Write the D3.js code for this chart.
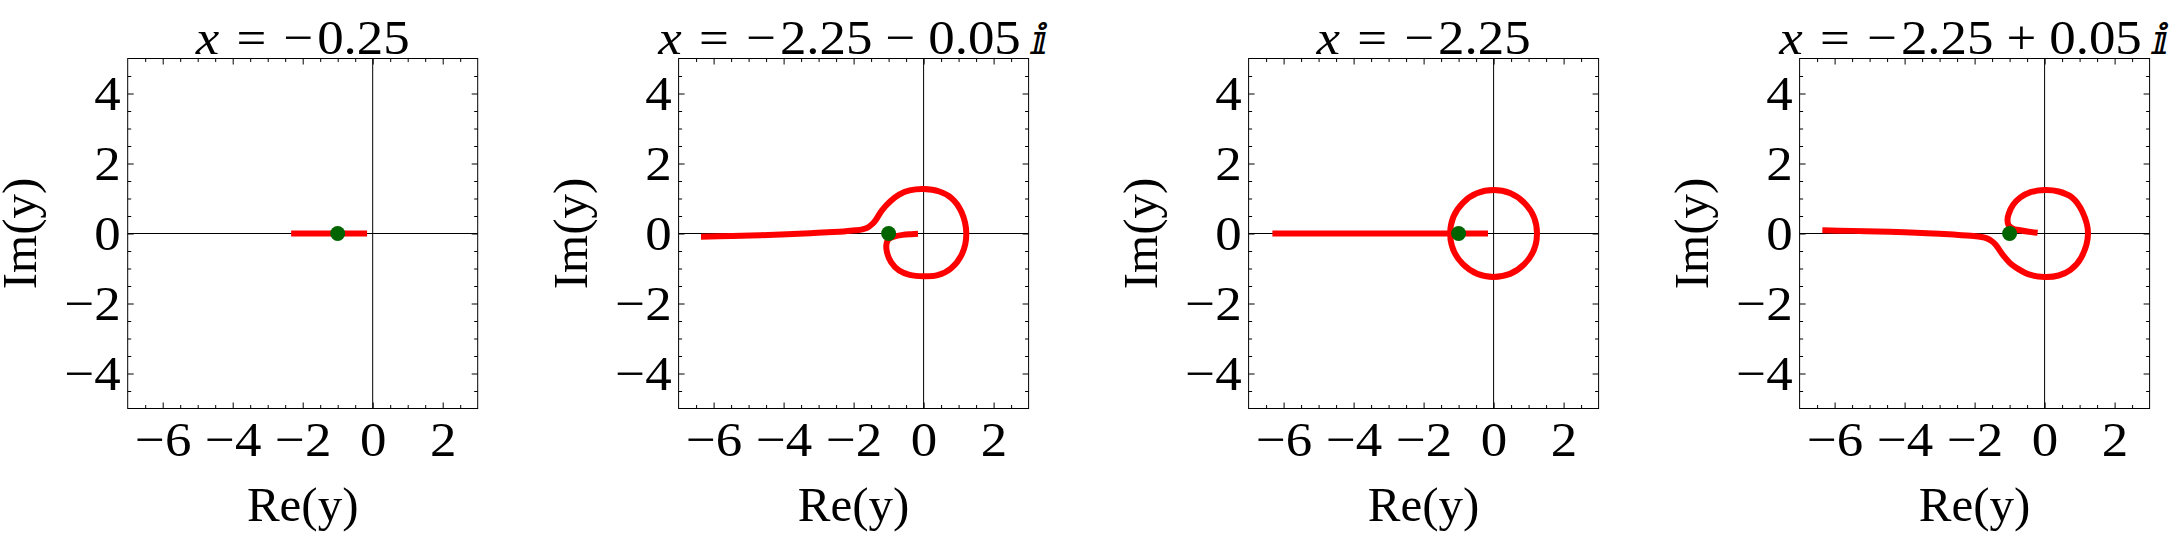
<!DOCTYPE html>
<html>
<head>
<meta charset="utf-8">
<script src="https://cdn.jsdelivr.net/npm/d3@7"></script>
<style>
  body { margin: 0; background: #fff; }
  text { font-family: "Liberation Serif", "Times New Roman", serif; fill: #000; }
</style>
</head>
<body>
<svg id="chart" width="2176" height="544"></svg>
<script>
// ---------------- data ----------------
const titleStrings = ["x = −0.25", "x = −2.25 − 0.05 \u2148", "x = −2.25", "x = −2.25 + 0.05 \u2148"];

const xDomain = [-7, 3];
const yDomain = [-5, 5];
const xMajorTicks = [-6, -4, -2, 0, 2];
const yMajorTicks = [-4, -2, 0, 2, 4];
const xMinorTicks = [-6.5, -5.5, -5, -4.5, -3.5, -3, -2.5, -1.5, -1, -0.5, 0.5, 1, 1.5, 2.5];
const yMinorTicks = [-4.5, -3.5, -3, -2.5, -1.5, -1, -0.5, 0.5, 1, 1.5, 2.5, 3, 3.5, 4.5];
const xLabel = "Re(y)";
const yLabel = "Im(y)";

// panel 1: x = -0.25
const curve1 = [[-2.33, 0], [-0.16, 0]];

// panel 2: x = -2.25 - 0.05 i
const curve2 = [
  [-6.36, -0.09], [-5.5, -0.07], [-4.67, -0.05], [-3.9, -0.02], [-3.24, 0.01],
  [-2.6, 0.04], [-2.28, 0.06], [-1.95, 0.09], [-1.75, 0.12], [-1.6, 0.17],
  [-1.48, 0.26], [-1.38, 0.37], [-1.19, 0.66], [-0.95, 0.92], [-0.70, 1.11],
  [-0.40, 1.23], [0, 1.27], [0.45, 1.20], [0.80, 1.01], [1.08, 0.62],
  [1.22, 0.0], [1.10, -0.58], [0.78, -1.0], [0.40, -1.19], [0, -1.22],
  [-0.40, -1.18], [-0.70, -1.06], [-0.93, -0.82], [-1.05, -0.52], [-1.06, -0.30],
  [-1.0, -0.16], [-0.85, -0.09], [-0.60, -0.04], [-0.35, -0.02], [-0.16, -0.01]
];

// panel 3: x = -2.25
const curve3 = [[-6.32, 0], [-0.16, 0]];
const circle3Radius = 1.24;

// panel 4: x = -2.25 + 0.05 i
const curve4 = [
  [-6.35, 0.09], [-5.5, 0.075], [-4.79, 0.06], [-4.0, 0.035], [-3.36, 0.01],
  [-2.6, -0.03], [-2.03, -0.07], [-1.8, -0.10], [-1.65, -0.14], [-1.52, -0.21],
  [-1.41, -0.31], [-1.17, -0.64], [-0.95, -0.88], [-0.79, -0.99], [-0.45, -1.17],
  [0, -1.24], [0.40, -1.20], [0.74, -1.04], [1.05, -0.68], [1.24, 0],
  [1.08, 0.62], [0.78, 1.03], [0.40, 1.20], [0, 1.24], [-0.40, 1.18],
  [-0.69, 1.03], [-0.90, 0.82], [-1.03, 0.55], [-1.06, 0.38], [-1.03, 0.24],
  [-0.90, 0.14], [-0.74, 0.10], [-0.45, 0.05], [-0.20, 0.02]
];

const dotPoint = [-1, 0];

// ---------------- layout ----------------
const frameLefts = [127.7, 678.6, 1248.6, 1799.6];
const frameTop = 58.5;
const frameSize = 350;
const fontSize = 49;
const stretch = 1.08;

const panels = [
  { curves: [curve1], circle: null },
  { curves: [curve2], circle: null },
  { curves: [curve3], circle: circle3Radius },
  { curves: [curve4], circle: null }
];

const svg = d3.select("#chart");
svg.append("rect").attr("width", 2176).attr("height", 544).attr("fill", "#fff");

const fmt = d => d < 0 ? "\u2212" + (-d) : String(d);

function drawTitle(g, cx, str) {
  const t = g.append("text")
    .attr("transform", `translate(${cx},53.5) scale(${stretch},1)`)
    .attr("text-anchor", "middle").attr("font-size", fontSize);
  const tokens = str.split(" ");
  let prev = null;
  tokens.forEach((tok, k) => {
    let gap = 0;
    if (k > 0) {
      if (tok === "=" || prev === "=") gap = 16;
      else if (tok === "\u2148") gap = 10;
      else gap = 12;
    }
    if (tok === "x") {
      t.append("tspan").attr("font-style", "italic").attr("dx", gap).text("x");
    } else if (tok === "\u2148") {
      t.append("tspan").attr("font-family", "DejaVu Serif, DejaVu Sans")
        .attr("font-size", fontSize - 7).attr("dx", gap).text(tok);
    } else if (tok.length > 1 && tok[0] === "\u2212") {
      t.append("tspan").attr("dx", gap).text("\u2212");
      t.append("tspan").attr("dx", 3.5).text(tok.slice(1));
    } else {
      t.append("tspan").attr("dx", gap).text(tok);
    }
    prev = tok;
  });
}

panels.forEach((p, i) => {
  const L = frameLefts[i];
  const x = d3.scaleLinear().domain(xDomain).range([L, L + frameSize]);
  const y = d3.scaleLinear().domain(yDomain).range([frameTop + frameSize, frameTop]);
  const g = svg.append("g");

  // zero axes
  g.append("line").attr("x1", x(xDomain[0])).attr("x2", x(xDomain[1]))
    .attr("y1", y(0)).attr("y2", y(0)).attr("stroke", "#000").attr("stroke-width", 1);
  g.append("line").attr("x1", x(0)).attr("x2", x(0))
    .attr("y1", y(yDomain[0])).attr("y2", y(yDomain[1])).attr("stroke", "#000").attr("stroke-width", 1);

  // ticks
  const bottom = y(yDomain[0]), top = y(yDomain[1]);
  const left = x(xDomain[0]), right = x(xDomain[1]);
  function addAxis(axis, tr) {
    const a = g.append("g").attr("transform", tr).call(axis);
    a.select(".domain").remove();
    a.selectAll("line").attr("stroke", "#000").attr("stroke-width", 1);
    a.selectAll("text").attr("font-size", fontSize).attr("font-family", "Liberation Serif")
      .attr("fill", "#000").attr("transform", `scale(${stretch},1)`);
    return a;
  }
  addAxis(d3.axisBottom(x).tickValues(xMajorTicks).tickSize(-6).tickPadding(12.7).tickFormat(fmt),
    `translate(0,${bottom})`);
  addAxis(d3.axisBottom(x).tickValues(xMinorTicks).tickSize(-3.5).tickFormat(""),
    `translate(0,${bottom})`);
  addAxis(d3.axisTop(x).tickValues(xMajorTicks).tickSize(-6).tickFormat(""),
    `translate(0,${top})`);
  addAxis(d3.axisTop(x).tickValues(xMinorTicks).tickSize(-3.5).tickFormat(""),
    `translate(0,${top})`);
  addAxis(d3.axisLeft(y).tickValues(yMajorTicks).tickSize(-6).tickPadding(6.5).tickFormat(fmt),
    `translate(${left},0)`);
  addAxis(d3.axisLeft(y).tickValues(yMinorTicks).tickSize(-3.5).tickFormat(""),
    `translate(${left},0)`);
  addAxis(d3.axisRight(y).tickValues(yMajorTicks).tickSize(-6).tickFormat(""),
    `translate(${right},0)`);
  addAxis(d3.axisRight(y).tickValues(yMinorTicks).tickSize(-3.5).tickFormat(""),
    `translate(${right},0)`);

  // frame
  g.append("rect").attr("x", left).attr("y", top)
    .attr("width", right - left).attr("height", bottom - top)
    .attr("fill", "none").attr("stroke", "#000").attr("stroke-width", 1);

  // curves
  const line = d3.line().x(d => x(d[0])).y(d => y(d[1])).curve(d3.curveCatmullRom.alpha(0.5));
  p.curves.forEach(c => {
    g.append("path").attr("d", line(c)).attr("fill", "none")
      .attr("stroke", "#ff0000").attr("stroke-width", 6)
      .attr("stroke-linejoin", "round").attr("stroke-linecap", "butt");
  });
  if (p.circle) {
    g.append("circle").attr("cx", x(0)).attr("cy", y(0))
      .attr("r", x(p.circle) - x(0))
      .attr("fill", "none").attr("stroke", "#ff0000").attr("stroke-width", 6);
  }

  // point
  g.append("circle").attr("cx", x(dotPoint[0])).attr("cy", y(dotPoint[1]))
    .attr("r", 7.5).attr("fill", "#006400");

  // title
  drawTitle(g, (left + right) / 2, titleStrings[i]);

  // axis labels
  g.append("text").attr("x", (left + right) / 2).attr("y", 521)
    .attr("text-anchor", "middle").attr("font-size", fontSize).text(xLabel);
  g.append("text").attr("transform", `translate(${left - 91.3},${(top + bottom) / 2}) rotate(-90)`)
    .attr("text-anchor", "middle").attr("font-size", fontSize).text(yLabel);
});
</script>
</body>
</html>
